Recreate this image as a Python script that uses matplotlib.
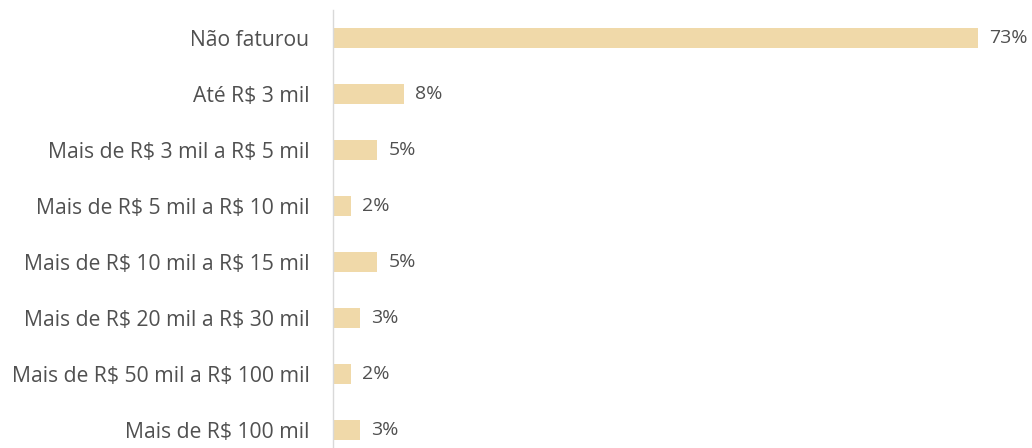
import matplotlib
matplotlib.use("Agg")
import matplotlib.pyplot as plt

categories = [
    "Não faturou",
    "Até R$ 3 mil",
    "Mais de R$ 3 mil a R$ 5 mil",
    "Mais de R$ 5 mil a R$ 10 mil",
    "Mais de R$ 10 mil a R$ 15 mil",
    "Mais de R$ 20 mil a R$ 30 mil",
    "Mais de R$ 50 mil a R$ 100 mil",
    "Mais de R$ 100 mil",
]
values = [73, 8, 5, 2, 5, 3, 2, 3]

BAR_COLOR = "#F0D9A9"
TEXT_COLOR = "#505050"

plt.rcParams["font.family"] = ["Open Sans", "DejaVu Sans"]
plt.rcParams["text.parse_math"] = False

fig = plt.figure(figsize=(10.32, 4.48), dpi=100)
ax = fig.add_axes([333 / 1032, 0.0, (1022 - 333) / 1032, 438 / 448])

y = list(range(len(categories)))
ax.barh(y, values, height=0.36, color=BAR_COLOR, left=0)
for yi, v in zip(y, values):
    ax.annotate(f"{v}%", (v, yi), xytext=(8, 0), textcoords="offset points",
                va="center", ha="left", fontsize=14, color=TEXT_COLOR)

ax.set_xlim(0, 689 / 8.84)
ax.set_ylim(7.32, -0.5)
ax.set_yticks(y)
ax.set_yticklabels(categories, fontsize=15.2, color=TEXT_COLOR)
ax.tick_params(axis="y", length=0, pad=17)
ax.set_xticks([])
for s in ["top", "right", "bottom"]:
    ax.spines[s].set_visible(False)
ax.spines["left"].set_color("#D9D9D9")
ax.spines["left"].set_linewidth(1.0)

fig.savefig("out.png", dpi=100)
